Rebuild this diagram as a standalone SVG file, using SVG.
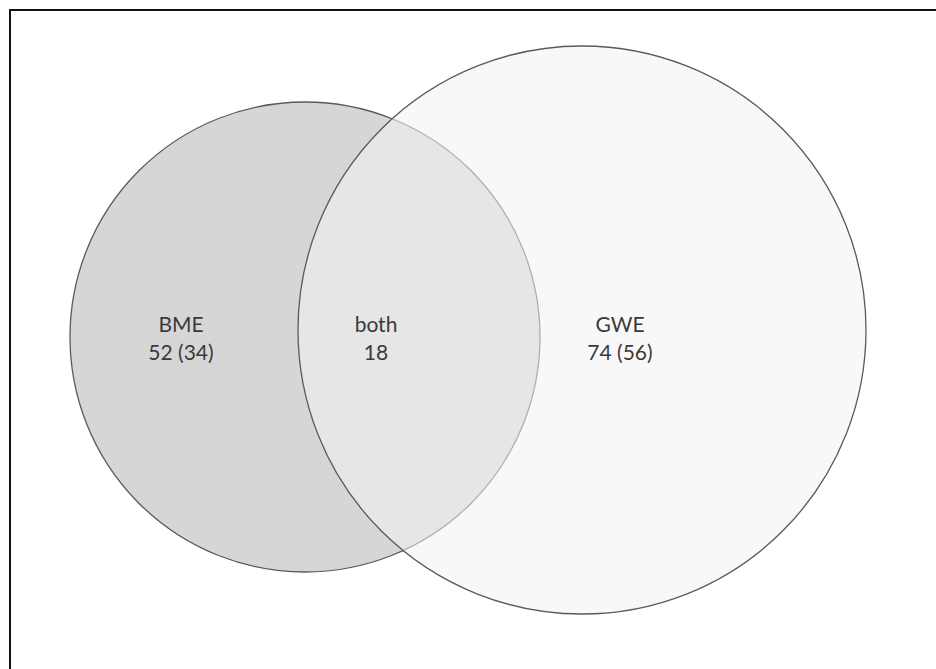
<svg xmlns="http://www.w3.org/2000/svg" width="936" height="669" viewBox="0 0 936 669">
  <style>
    .set { stroke: #5a5a5a; stroke-width: 1.3; }
    .lbl { font-family: "Lato", "Open Sans", "Liberation Sans", sans-serif; font-size: 21px; fill: #3a3a3a; text-anchor: middle; }
  </style>
  <rect x="0" y="0" width="936" height="669" fill="#ffffff"/>
  <path d="M10 669 V10 H936" fill="none" stroke="#111111" stroke-width="2"/>
  <g id="node-bme">
    <circle class="set" cx="305" cy="337" r="235" fill="#d6d6d6"/>
  </g>
  <g id="node-gwe">
    <circle class="set" cx="582" cy="330" r="284" fill="#f2f2f2" fill-opacity="0.56"/>
  </g>
  <g id="labels">
    <g id="label-bme">
      <text class="lbl" x="181" y="332">BME</text>
      <text class="lbl" x="181" y="360">52 (34)</text>
    </g>
    <g id="label-both">
      <text class="lbl" x="376" y="332">both</text>
      <text class="lbl" x="376" y="360">18</text>
    </g>
    <g id="label-gwe">
      <text class="lbl" x="620" y="332">GWE</text>
      <text class="lbl" x="620" y="360">74 (56)</text>
    </g>
  </g>
  <g id="connectors"/>
</svg>
